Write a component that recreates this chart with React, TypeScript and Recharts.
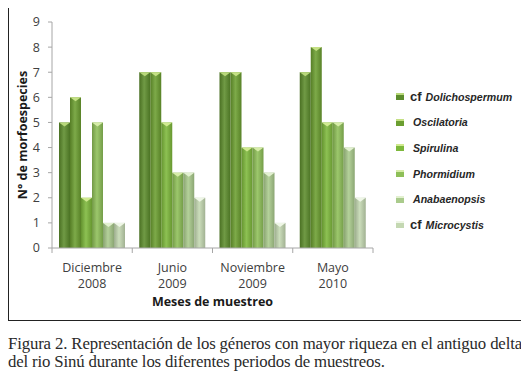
import React from 'react';
import { BarChart, Bar, XAxis, YAxis } from 'recharts';

const months = ['Diciembre', 'Junio', 'Noviembre', 'Mayo'];
const years = ['2008', '2009', '2009', '2010'];

const dolichospermum = [5, 7, 7, 7];
const oscilatoria = [6, 7, 7, 8];
const spirulina = [2, 5, 4, 5];
const phormidium = [5, 3, 4, 5];
const anabaenopsis = [1, 3, 3, 4];
const microcystis = [1, 2, 1, 2];

const yTicks = [0, 1, 2, 3, 4, 5, 6, 7, 8, 9];

const series = [
  { key: 'dol', name: 'Dolichospermum', cf: true, values: dolichospermum, color: '#5c8c2c', light: '#b8d87a' },
  { key: 'osc', name: 'Oscilatoria', cf: false, values: oscilatoria, color: '#6b9e30', light: '#c4e084' },
  { key: 'spi', name: 'Spirulina', cf: false, values: spirulina, color: '#7db83b', light: '#d0ea90' },
  { key: 'pho', name: 'Phormidium', cf: false, values: phormidium, color: '#8ebf58', light: '#d6eca8' },
  { key: 'ana', name: 'Anabaenopsis', cf: false, values: anabaenopsis, color: '#aacb8c', light: '#e2f0d0' },
  { key: 'mic', name: 'Microcystis', cf: true, values: microcystis, color: '#c4d8b2', light: '#eef6e6' },
];

const data = months.map((m, i) => {
  const row: any = { month: m, year: years[i] };
  series.forEach((s) => { row[s.key] = s.values[i]; });
  return row;
});

const shade = (hex: string, f: number) => {
  const n = parseInt(hex.slice(1), 16);
  const c = [(n >> 16) & 255, (n >> 8) & 255, n & 255].map((v) =>
    Math.max(0, Math.min(255, Math.round(f < 1 ? v * f : v + (255 - v) * (f - 1))))
  );
  return `rgb(${c[0]},${c[1]},${c[2]})`;
};

const makeShape = (s: any) => (props: any) => {
  const { x, y, width, height } = props;
  if (!height || height <= 0) return null;
  return (
    <g>
      <rect x={x} y={y} width={width} height={height} fill={`url(#g-${s.key})`} />
      <polygon
        points={`${x},${y} ${x + width},${y} ${x + width / 2},${y + 4}`}
        fill={s.light}
      />
    </g>
  );
};

const XTick = (props: any) => {
  const { x, y, payload, index, visibleTicksCount } = props;
  const off = payload.offset || 0;
  const i = payload.index ?? index;
  return (
    <g>
      <line x1={x - off} x2={x - off} y1={y} y2={y + 5} stroke="#a6a6a6" />
      {index === visibleTicksCount - 1 && (
        <line x1={x + off} x2={x + off} y1={y} y2={y + 5} stroke="#a6a6a6" />
      )}
      <text x={x} y={y + 24} textAnchor="middle" fontSize={12.5} fill="#404040" fontFamily="Open Sans">
        {payload.value}
      </text>
      <text x={x} y={y + 40} textAnchor="middle" fontSize={12.5} fill="#404040" fontFamily="Open Sans">
        {years[i]}
      </text>
    </g>
  );
};

export default function App() {
  return (
    <div style={{ width: 514, marginTop: -1 }}>
      <div
        style={{
          position: 'relative',
          width: 514,
          height: 314,
          border: '1px solid #222',
          boxSizing: 'border-box',
          background: '#fff',
        }}
      >
        <BarChart
          width={512}
          height={312}
          data={data}
          margin={{ top: 14, right: 148, bottom: 0, left: 0 }}
          barCategoryGap={7}
          barGap={0}
        >
          <defs>
            {series.map((s) => (
              <linearGradient key={s.key} id={`g-${s.key}`} x1="0" y1="0" x2="1" y2="0">
                <stop offset="0%" stopColor={shade(s.color, 0.8)} />
                <stop offset="45%" stopColor={shade(s.color, 1.12)} />
                <stop offset="100%" stopColor={shade(s.color, 0.82)} />
              </linearGradient>
            ))}
          </defs>
          <XAxis
            dataKey="month"
            height={72}
            tickLine={false}
            tickSize={0}
            tickMargin={0}
            interval={0}
            stroke="#a6a6a6"
            tick={<XTick />}
            label={{
              content: (p: any) => {
                const vb = p.viewBox;
                return (
                  <text
                    x={vb.x + vb.width / 2}
                    y={vb.y + 58}
                    textAnchor="middle"
                    fontSize={12.5}
                    fontWeight="bold"
                    fill="#1a1a1a"
                    fontFamily="Open Sans"
                  >
                    Meses de muestreo
                  </text>
                );
              },
            }}
          />
          <YAxis
            width={43}
            domain={[0, 9]}
            ticks={yTicks}
            interval={0}
            stroke="#a6a6a6"
            tickSize={4}
            tickMargin={8}
            tick={{ fontSize: 12.5, fill: '#404040', fontFamily: 'Open Sans' }}
            label={{
              content: (p: any) => {
                const vb = p.viewBox;
                const cx = vb.x + 13;
                const cy = vb.y + vb.height / 2;
                return (
                  <text
                    x={cx}
                    y={cy}
                    transform={`rotate(-90, ${cx}, ${cy})`}
                    textAnchor="middle"
                    dominantBaseline="central"
                    fontSize={12.5}
                    fontWeight="bold"
                    fill="#1a1a1a"
                    fontFamily="Open Sans"
                  >
                    N° de morfoespecies
                  </text>
                );
              },
            }}
          />
          {series.map((s) => (
            <Bar
              key={s.key}
              dataKey={s.key}
              name={s.name}
              fill={s.color}
              isAnimationActive={false}
              shape={makeShape(s)}
            />
          ))}
        </BarChart>
        <div style={{ position: 'absolute', left: 387, top: 76, fontFamily: 'Liberation Sans' }}>
          {series.map((s) => (
            <div key={s.key} style={{ height: 25.6, display: 'flex', alignItems: 'center', whiteSpace: 'nowrap' }}>
              <span
                style={{
                  display: 'inline-block',
                  width: 8,
                  height: 7,
                  background: `linear-gradient(to bottom, ${s.light} 0, ${s.light} 2px, ${s.color} 2px)`,
                  marginRight: s.cf ? 6 : 9,
                }}
              />
              {s.cf && (
                <span style={{ fontSize: 13, fontWeight: 'bold', color: '#262626', marginRight: 4 }}>cf</span>
              )}
              <span style={{ fontSize: 10.6, fontWeight: 'bold', fontStyle: 'italic', color: '#262626' }}>{s.name}</span>
            </div>
          ))}
        </div>
      </div>
      <div
        style={{
          marginTop: 14,
          fontFamily: 'Liberation Serif',
          fontSize: 16.8,
          letterSpacing: -0.15,
          lineHeight: '18px',
          color: '#2a2a2a',
          width: 514,
        }}
      >
        <div style={{ textAlign: 'justify', textAlignLast: 'justify', whiteSpace: 'nowrap' }}>
          Figura 2. Representación de los géneros con mayor riqueza en el antiguo delta
        </div>
        <div>del rio Sinú durante los diferentes periodos de muestreos.</div>
      </div>
    </div>
  );
}
